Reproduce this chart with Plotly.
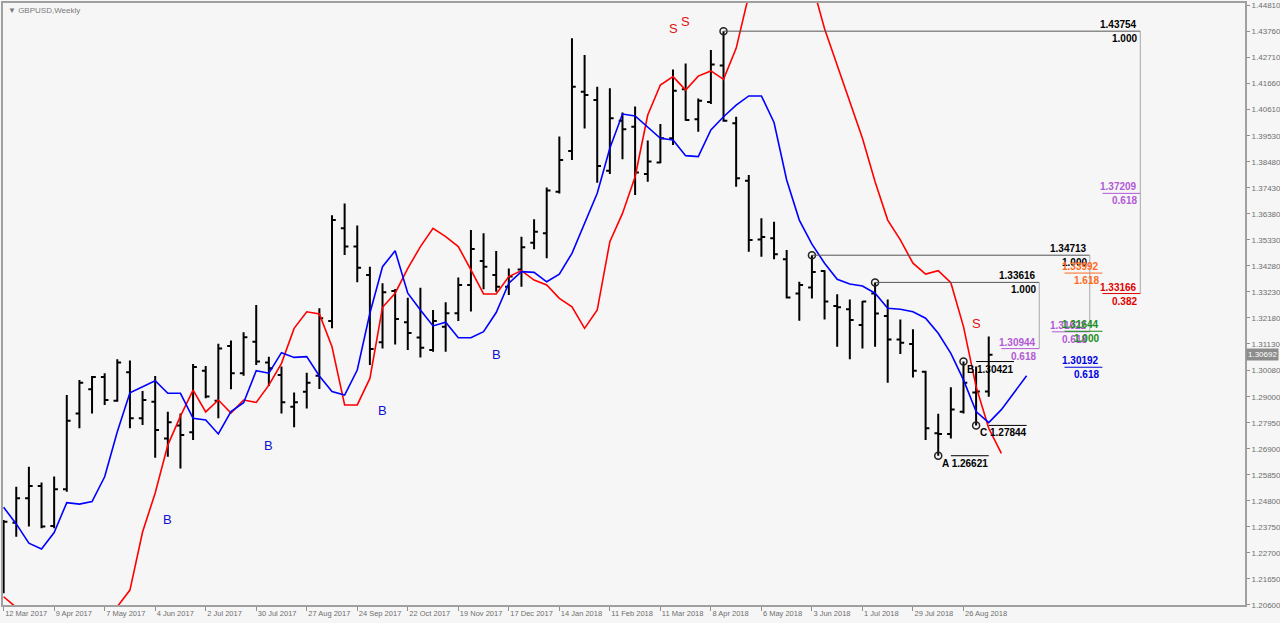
import plotly.graph_objects as go

# ---------------- data ----------------
bar_index = list(range(79))  # weekly bars, 12 Mar 2017 .. 9 Sep 2018
opens = [1.2160, 1.2392, 1.2490, 1.2540, 1.2379, 1.2527, 1.2833, 1.2930, 1.2980, 1.2884,
         1.2999, 1.2813, 1.2880, 1.2732, 1.2784, 1.2757, 1.3005, 1.2884, 1.3105, 1.2995,
         1.3122, 1.3038, 1.2988, 1.2860, 1.2920, 1.2985, 1.3206, 1.3580, 1.3506, 1.3391,
         1.3120, 1.3327, 1.3201, 1.3139, 1.3089, 1.3183, 1.3237, 1.3351, 1.3448, 1.3391,
         1.3344, 1.3414, 1.3522, 1.3560, 1.3727, 1.3892, 1.4131, 1.4098, 1.3812, 1.4014,
         1.3990, 1.3799, 1.3845, 1.3943, 1.4141, 1.4020, 1.4090, 1.4237, 1.4004, 1.3772,
         1.3535, 1.3540, 1.3455, 1.3317, 1.3341, 1.3408, 1.3266, 1.3253, 1.3190, 1.3317,
         1.3226, 1.3131, 1.3113, 1.3001, 1.2753, 1.2750, 1.2840, 1.2917, 1.2921]
highs = [1.2403, 1.2537, 1.2618, 1.2554, 1.2578, 1.2907, 1.2968, 1.2984, 1.2995, 1.3051,
         1.3046, 1.2923, 1.2984, 1.2840, 1.2833, 1.3032, 1.3024, 1.3114, 1.3127, 1.3160,
         1.3270, 1.3062, 1.3022, 1.2917, 1.2997, 1.3257, 1.3633, 1.3680, 1.3591, 1.3425,
         1.3358, 1.3335, 1.3300, 1.3340, 1.3250, 1.3281, 1.3381, 1.3573, 1.3560, 1.3488,
         1.3418, 1.3546, 1.3616, 1.3745, 1.3950, 1.4347, 1.4279, 1.4151, 1.4145, 1.4047,
         1.4071, 1.3934, 1.4001, 1.4221, 1.4245, 1.4104, 1.4299, 1.43754, 1.4030, 1.3795,
         1.3620, 1.3606, 1.3492, 1.3364, 1.34713, 1.3411, 1.3314, 1.3293, 1.3287, 1.33616,
         1.3293, 1.3212, 1.3172, 1.3005, 1.2831, 1.2938, 1.30421, 1.3022, 1.3143]
lows = [1.2107, 1.2335, 1.2376, 1.2369, 1.2369, 1.2517, 1.2773, 1.2833, 1.2867, 1.2880,
        1.2773, 1.2786, 1.2654, 1.2658, 1.2611, 1.2726, 1.2894, 1.2813, 1.2930, 1.2985,
        1.3028, 1.2943, 1.2833, 1.2777, 1.2853, 1.2931, 1.3177, 1.3472, 1.3362, 1.3028,
        1.3095, 1.3111, 1.3089, 1.3059, 1.3082, 1.3082, 1.3206, 1.3244, 1.3334, 1.3324,
        1.3311, 1.3344, 1.3495, 1.3459, 1.3720, 1.3856, 1.3983, 1.3764, 1.3799, 1.3859,
        1.3714, 1.3768, 1.3842, 1.3916, 1.4014, 1.3970, 1.4082, 1.4010, 1.3748, 1.3485,
        1.3465, 1.3455, 1.3297, 1.3207, 1.3297, 1.3212, 1.3102, 1.3051, 1.3095, 1.3102,
        1.2957, 1.3073, 1.2978, 1.2726, 1.26621, 1.2732, 1.2833, 1.27844, 1.2900]
closes = [1.2396, 1.2490, 1.2540, 1.2376, 1.2527, 1.2803, 1.2957, 1.2980, 1.2887, 1.3038,
          1.2813, 1.2887, 1.2766, 1.2797, 1.2746, 1.3020, 1.2901, 1.3095, 1.2995, 1.3140,
          1.3042, 1.3015, 1.2878, 1.2878, 1.2957, 1.3217, 1.3613, 1.3506, 1.3421, 1.3093,
          1.3322, 1.3214, 1.3157, 1.3098, 1.3206, 1.3237, 1.3351, 1.3496, 1.3425, 1.3344,
          1.3385, 1.3503, 1.3566, 1.3732, 1.3856, 1.4151, 1.4118, 1.3831, 1.4024, 1.3980,
          1.3805, 1.3849, 1.3943, 1.4135, 1.4017, 1.4095, 1.4241, 1.4014, 1.3782, 1.3533,
          1.3545, 1.3475, 1.3301, 1.3351, 1.3404, 1.3284, 1.3261, 1.3210, 1.3284, 1.3236,
          1.3131, 1.3118, 1.3005, 1.2773, 1.2750, 1.2849, 1.2957, 1.2921, 1.30692]

red_line = [1.2093, 1.2050, 1.2000, 1.1950, 1.1900, 1.1880, 1.1880, 1.1920, 1.1980, 1.2053,
            1.2120, 1.2354, 1.2512, 1.2705, 1.2822, 1.2927, 1.2839, 1.2887, 1.2834, 1.2887,
            1.2877, 1.2947, 1.3035, 1.3176, 1.3243, 1.3234, 1.3102, 1.2867, 1.2867, 1.2974,
            1.3261, 1.3318, 1.3418, 1.3506, 1.3580, 1.3546, 1.3506, 1.3412, 1.3315, 1.3315,
            1.3385, 1.3409, 1.3371, 1.3351, 1.3297, 1.3263, 1.3176, 1.3250, 1.3526, 1.3640,
            1.3788, 1.4037, 1.4158, 1.4192, 1.4138, 1.4194, 1.4215, 1.4181, 1.4306, 1.4521,
            1.4680, 1.4760, 1.4750, 1.4680, 1.4570, 1.4385, 1.4239, 1.4098, 1.3943, 1.3768,
            1.3613, 1.3533, 1.3439, 1.3395, 1.3409, 1.3360, 1.3183, 1.2941, 1.2773, 1.2672]
blue_line = [1.2454, 1.2387, 1.2309, 1.2286, 1.2352, 1.2473, 1.2467, 1.2477, 1.2577, 1.2759,
             1.2916, 1.2941, 1.2965, 1.2914, 1.2914, 1.2813, 1.2806, 1.2750, 1.2840, 1.2876,
             1.3005, 1.2995, 1.3078, 1.3059, 1.3062, 1.2984, 1.2921, 1.2907, 1.3008, 1.3237,
             1.3425, 1.3489, 1.3318, 1.3250, 1.3186, 1.3201, 1.3138, 1.3138, 1.3163, 1.3240,
             1.3358, 1.3405, 1.3402, 1.3364, 1.3395, 1.3479, 1.3600, 1.3721, 1.3903, 1.4041,
             1.4033, 1.3990, 1.3943, 1.3936, 1.3873, 1.3869, 1.3977, 1.4030, 1.4077, 1.4114,
             1.4114, 1.4007, 1.3775, 1.3613, 1.3516, 1.3439, 1.3374, 1.3355, 1.3347, 1.3318,
             1.3257, 1.3253, 1.3243, 1.3217, 1.3156, 1.3075, 1.2968, 1.2840, 1.2796, 1.2848,
             1.2916, 1.2985]

date_tick_index = [0, 4, 8, 12, 16, 20, 24, 28, 32, 36, 40, 44, 48, 52, 56, 60, 64, 68, 72, 76]
date_tick_text = ["12 Mar 2017", "9 Apr 2017", "7 May 2017", "4 Jun 2017", "2 Jul 2017",
                  "30 Jul 2017", "27 Aug 2017", "24 Sep 2017", "22 Oct 2017", "19 Nov 2017",
                  "17 Dec 2017", "14 Jan 2018", "11 Feb 2018", "11 Mar 2018", "8 Apr 2018",
                  "6 May 2018", "3 Jun 2018", "1 Jul 2018", "29 Jul 2018", "26 Aug 2018"]
price_ticks = [1.20600, 1.21650, 1.22700, 1.23750, 1.24800, 1.25850, 1.26900, 1.27950,
               1.29000, 1.30080, 1.31130, 1.32180, 1.33230, 1.34280, 1.35330, 1.36380,
               1.37430, 1.38480, 1.39530, 1.40610, 1.41660, 1.42710, 1.43760, 1.44810]
current_price = 1.30692

# swing points (circles)
pivot_index = [57, 64, 69, 74, 76, 77]
pivot_price = [1.43754, 1.34713, 1.33616, 1.26621, 1.30421, 1.27844]

# ABC labels
abc_names = ["A", "B", "C"]
abc_index = [74, 76, 77]
abc_price = [1.26621, 1.30421, 1.27844]

# fibonacci groups: start bar, end bar, top level, bottom level of vertical
fib_start = [57, 64, 69]
fib_top = [1.43754, 1.34713, 1.33616]
fib_end_group = [90, 86, 82]
fib_bottom = [1.33166, 1.31622, 1.30944]

# fib labels
fib_level = [1.43754, 1.34713, 1.33616, 1.37209, 1.33166, 1.33992, 1.31622, 1.31644, 1.30944, 1.30192]
fib_ratio = ["1.000", "1.000", "1.000", "0.618", "0.382", "1.618", "0.618", "1.000", "0.618", "0.618"]
fib_end = [90, 86, 82, 90, 90, 87, 86, 87, 82, 87]
fib_color = ["#000000", "#000000", "#000000", "#b25ad6", "#e00000", "#ff6a22",
             "#b25ad6", "#1a8c1a", "#b25ad6", "#0000e0"]

# signal letters
sig_text = ["S", "S", "S", "B", "B", "B", "B"]
sig_index = [53, 54, 77, 13, 21, 30, 39]
sig_price = [1.4388, 1.4416, 1.3194, 1.2403, 1.2705, 1.2843, 1.3069]
sig_color = ["#e01010", "#e01010", "#e01010", "#1010d0", "#1010d0", "#1010d0", "#1010d0"]

# ---------------- figure ----------------
fig = go.Figure()

fig.add_trace(go.Ohlc(
    x=bar_index, open=opens, high=highs, low=lows, close=closes,
    increasing=dict(line=dict(color="#000000", width=2)),
    decreasing=dict(line=dict(color="#000000", width=2)),
    tickwidth=0.3, showlegend=False, hoverinfo="skip"))

fig.add_trace(go.Scatter(x=list(range(len(red_line))), y=red_line, mode="lines",
                         line=dict(color="#ff0000", width=1.6), showlegend=False, hoverinfo="skip"))
fig.add_trace(go.Scatter(x=list(range(len(blue_line))), y=blue_line, mode="lines",
                         line=dict(color="#0000ff", width=1.6), showlegend=False, hoverinfo="skip"))

shapes = []
line_font = "Liberation Sans"
annotations = []

for s, t, e, b in zip(fib_start, fib_top, fib_end_group, fib_bottom):
    shapes.append(dict(type="line", xref="x", yref="y", x0=s, x1=e, y0=t, y1=t,
                       line=dict(color="#555555", width=1)))
    shapes.append(dict(type="line", xref="x", yref="y", x0=e, x1=e, y0=t, y1=b,
                       line=dict(color="#a8a8a8", width=1)))

for lvl, rat, e, col in zip(fib_level, fib_ratio, fib_end, fib_color):
    if lvl not in fib_top:
        shapes.append(dict(type="line", xref="x", yref="y", x0=e - 3, x1=e, y0=lvl, y1=lvl,
                           line=dict(color=col, width=1)))
    annotations.append(dict(x=e, y=lvl, xref="x", yref="y", text=f"{lvl:.5f}", showarrow=False,
                            xanchor="right", yanchor="bottom", xshift=-1, yshift=-1,
                            font=dict(family=line_font, size=10, color=col, weight="bold")))
    annotations.append(dict(x=e, y=lvl, xref="x", yref="y", text=rat, showarrow=False,
                            xanchor="right", yanchor="top", xshift=-1, yshift=0,
                            font=dict(family=line_font, size=10, color=col, weight="bold")))

for n, i, p in zip(abc_names, abc_index, abc_price):
    shapes.append(dict(type="line", xref="x", yref="y", x0=i + 1, x1=i + 4, y0=p, y1=p,
                       line=dict(color="#000000", width=1)))
    annotations.append(dict(x=i, y=p, xref="x", yref="y", text=f"{n} {p:.5f}", showarrow=False,
                            xanchor="left", yanchor="top", xshift=2, yshift=0,
                            font=dict(family=line_font, size=10, color="#000000", weight="bold")))

for t, i, p, c in zip(sig_text, sig_index, sig_price, sig_color):
    annotations.append(dict(x=i, y=p, xref="x", yref="y", text=t, showarrow=False,
                            xanchor="center", yanchor="middle",
                            font=dict(family=line_font, size=13, color=c)))

fig.add_trace(go.Scatter(x=pivot_index, y=pivot_price, mode="markers",
                         marker=dict(symbol="circle-open", size=7, color="#222222",
                                     line=dict(width=1.5, color="#222222")),
                         showlegend=False, hoverinfo="skip"))

annotations.append(dict(x=0, y=1, xref="paper", yref="paper", text="▼ GBPUSD,Weekly",
                        showarrow=False, xanchor="left", yanchor="top", xshift=3, yshift=-1,
                        font=dict(family="Liberation Sans", size=8, color="#7a7a7a")))
annotations.append(dict(x=1, y=current_price, xref="paper", yref="y", text=f"{current_price:.5f}",
                        showarrow=False, xanchor="left", yanchor="middle", xshift=1,
                        bgcolor="#8c8c8c", borderpad=1,
                        font=dict(family="Liberation Sans", size=8, color="#ffffff")))

fig.update_layout(
    width=1280, height=623,
    margin=dict(l=3, r=35, t=3, b=18, autoexpand=False),
    paper_bgcolor="#f6f6f6", plot_bgcolor="#f6f6f6",
    shapes=shapes, annotations=annotations,
    showlegend=False,
    xaxis=dict(range=[-0.05, 98.29], showgrid=False, zeroline=False,
               tickmode="array", tickvals=date_tick_index, ticktext=date_tick_text,
               ticks="outside", ticklen=4, tickcolor="#909090", tickangle=0,
               ticklabelposition="outside right",
               tickfont=dict(family="Liberation Sans", size=7.5, color="#6e6e6e"),
               showline=True, linecolor="#a0a0a0", linewidth=2, mirror=True,
               rangeslider=dict(visible=False)),
    yaxis=dict(range=[1.20597, 1.44891], side="right", showgrid=False, zeroline=False,
               tickmode="array", tickvals=price_ticks,
               ticktext=[f"{v:.5f}" for v in price_ticks],
               ticks="outside", ticklen=3, tickcolor="#909090",
               tickfont=dict(family="Liberation Sans", size=8, color="#6e6e6e"),
               showline=True, linecolor="#a0a0a0", linewidth=2, mirror=True),
)

fig.write_html("out.html", config={"displayModeBar": False},
               post_script="document.body.style.margin='0';document.body.style.overflow='hidden';")
